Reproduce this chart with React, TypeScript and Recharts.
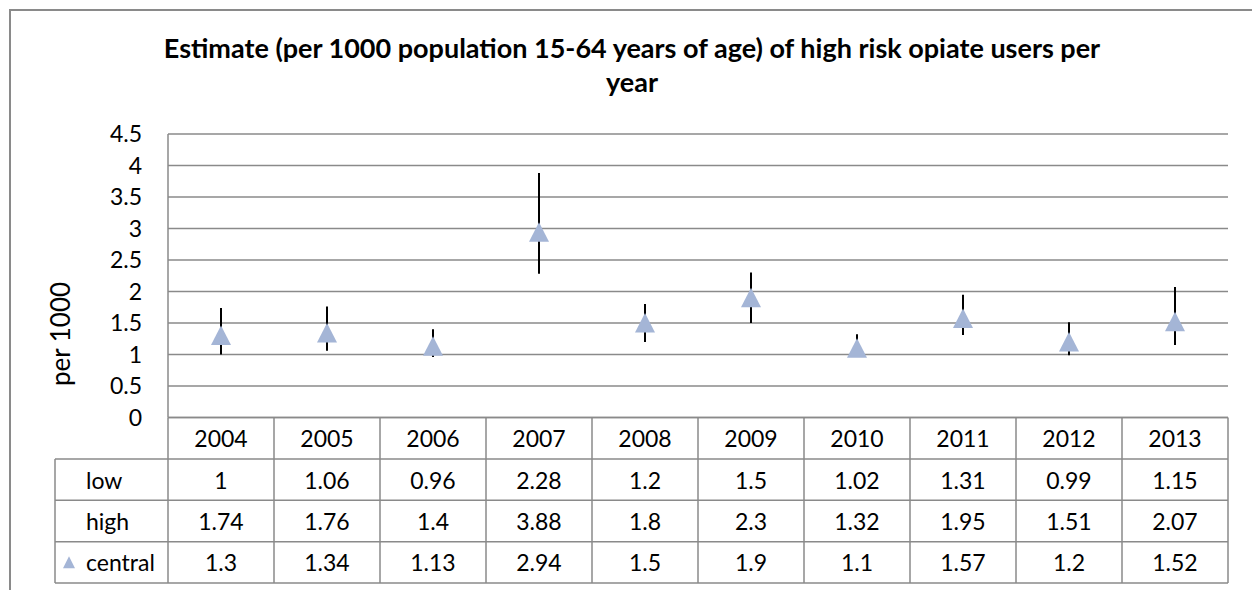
import React from 'react';
import { ComposedChart, Bar, Line, XAxis, YAxis, CartesianGrid } from 'recharts';

const years = ['2004', '2005', '2006', '2007', '2008', '2009', '2010', '2011', '2012', '2013'];
const lowValues = [1, 1.06, 0.96, 2.28, 1.2, 1.5, 1.02, 1.31, 0.99, 1.15];
const highValues = [1.74, 1.76, 1.4, 3.88, 1.8, 2.3, 1.32, 1.95, 1.51, 2.07];
const centralValues = [1.3, 1.34, 1.13, 2.94, 1.5, 1.9, 1.1, 1.57, 1.2, 1.52];
const yTicks = [0, 0.5, 1, 1.5, 2, 2.5, 3, 3.5, 4, 4.5];
const rowLabels = ['low', 'high', 'central'];

const titleLine1 = 'Estimate (per 1000 population 15-64 years of age) of high risk opiate users per';
const titleLine2 = 'year';
const yLabel = 'per 1000';

const data = years.map((year, i) => ({
  year,
  low: lowValues[i],
  high: highValues[i],
  central: centralValues[i],
  range: [lowValues[i], highValues[i]],
}));

const W = 1252;
const H = 590;
const PLOT_LEFT = 168;
const PLOT_RIGHT = 1228;
const PLOT_TOP = 134;
const PLOT_BOTTOM = 417.5;
const TABLE_BOTTOM = 583;
const LEGEND_LEFT = 55;
const ROW_H = (TABLE_BOTTOM - PLOT_BOTTOM) / 4;
const FONT = 'Lato, Carlito, Calibri, sans-serif';
const LINE = '#8a8a8a';
const MARKER = '#a4b5d6';
const FS = 23;
const FS_TITLE = 27;
const FS_YLABEL = 26;

const rowArrays = [lowValues, highValues, centralValues];

function TableTick(props: any) {
  const { x, y, index } = props;
  const colW = (PLOT_RIGHT - PLOT_LEFT) / years.length;
  const left = x - colW / 2;
  const right = x + colW / 2;
  const top = y;
  const els: any[] = [];
  els.push(
    <text key="h" x={x} y={top + ROW_H / 2} textAnchor="middle" dominantBaseline="central" fontSize={FS} fontFamily={FONT} fill="#000">
      {years[index]}
    </text>
  );
  rowArrays.forEach((arr, r) => {
    const ry = top + ROW_H * (r + 1);
    els.push(
      <text key={'v' + r} x={x} y={ry + ROW_H / 2} textAnchor="middle" dominantBaseline="central" fontSize={FS} fontFamily={FONT} fill="#000">
        {String(arr[index])}
      </text>
    );
    els.push(<line key={'hl' + r} x1={left} x2={right} y1={ry} y2={ry} stroke={LINE} strokeWidth={1.5} />);
  });
  els.push(<line key="bl" x1={left} x2={right} y1={top + ROW_H * 4} y2={top + ROW_H * 4} stroke={LINE} strokeWidth={1.5} />);
  els.push(<line key="vl" x1={left} x2={left} y1={top} y2={top + ROW_H * 4} stroke={LINE} strokeWidth={1.5} />);
  if (index === years.length - 1) {
    els.push(<line key="vr" x1={right} x2={right} y1={top} y2={top + ROW_H * 4} stroke={LINE} strokeWidth={1.5} />);
  }
  if (index === 0) {
    for (let r = 0; r < 3; r++) {
      const ry = top + ROW_H * (r + 1);
      els.push(<line key={'lh' + r} x1={LEGEND_LEFT} x2={left} y1={ry} y2={ry} stroke={LINE} strokeWidth={1.5} />);
      els.push(
        <text key={'lt' + r} x={86} y={ry + ROW_H / 2} textAnchor="start" dominantBaseline="central" fontSize={FS} fontFamily={FONT} fill="#000">
          {rowLabels[r]}
        </text>
      );
    }
    els.push(<line key="lb" x1={LEGEND_LEFT} x2={left} y1={top + ROW_H * 4} y2={top + ROW_H * 4} stroke={LINE} strokeWidth={1.5} />);
    els.push(<line key="lv" x1={LEGEND_LEFT} x2={LEGEND_LEFT} y1={top + ROW_H} y2={top + ROW_H * 4} stroke={LINE} strokeWidth={1.5} />);
    const cy = top + ROW_H * 3.5;
    els.push(<polygon key="lm" points={`${69},${cy - 6} ${75},${cy + 6} ${63},${cy + 6}`} fill={MARKER} />);
  }
  return <g>{els}</g>;
}

function TriangleDot(props: any) {
  const { cx, cy, index } = props;
  if (cx == null || cy == null) return <g key={index} />;
  return (
    <polygon
      key={index}
      points={`${cx},${cy - 10} ${cx + 10},${cy + 9.5} ${cx - 10},${cy + 9.5}`}
      fill={MARKER}
    />
  );
}

export default function App() {
  return (
    <div style={{ position: 'absolute', left: 0, top: 0, width: W, height: H, overflow: 'hidden', background: '#fff' }}>
      <div
        style={{
          position: 'absolute',
          left: 9,
          top: 9,
          width: 1300,
          height: 700,
          borderLeft: `2px solid ${LINE}`,
          borderTop: `2px solid ${LINE}`,
          boxSizing: 'border-box',
        }}
      />
      <div style={{ position: 'absolute', left: 0, top: 0 }}>
        <ComposedChart
          width={W}
          height={H}
          data={data}
          margin={{ top: PLOT_TOP, right: W - PLOT_RIGHT, bottom: H - TABLE_BOTTOM, left: LEGEND_LEFT }}
        >
          <CartesianGrid vertical={false} stroke={LINE} strokeWidth={1.5} />
          <XAxis
            dataKey="year"
            type="category"
            height={TABLE_BOTTOM - PLOT_BOTTOM}
            interval={0}
            tickSize={0}
            tickMargin={0}
            tickLine={false}
            axisLine={{ stroke: LINE, strokeWidth: 1.5 }}
            tick={<TableTick />}
          />
          <YAxis
            type="number"
            domain={[0, 4.5]}
            ticks={yTicks}
            width={PLOT_LEFT - LEGEND_LEFT}
            tickSize={0}
            tickMargin={26}
            tickLine={false}
            axisLine={{ stroke: LINE, strokeWidth: 1.5 }}
            tick={{ fontSize: FS, fontFamily: FONT, fill: '#000' }}
            interval={0}
          />
          <Bar dataKey="range" barSize={2} fill="#000" isAnimationActive={false} />
          <Line
            dataKey="central"
            stroke="none"
            dot={(p: any) => <TriangleDot {...p} />}
            activeDot={false}
            isAnimationActive={false}
          />
        </ComposedChart>
      </div>
      <svg width={W} height={H} style={{ position: 'absolute', left: 0, top: 0, pointerEvents: 'none' }}>
        <text x={632} y={58} textAnchor="middle" fontSize={FS_TITLE} fontWeight="bold" fontFamily={FONT} fill="#000">
          {titleLine1}
        </text>
        <text x={632} y={92} textAnchor="middle" fontSize={FS_TITLE} fontWeight="bold" fontFamily={FONT} fill="#000">
          {titleLine2}
        </text>
        <text
          x={60}
          y={334}
          transform="rotate(-90 60 334)"
          textAnchor="middle"
          dominantBaseline="central"
          fontSize={FS_YLABEL}
          fontFamily={FONT}
          fill="#000"
        >
          {yLabel}
        </text>
      </svg>
    </div>
  );
}
